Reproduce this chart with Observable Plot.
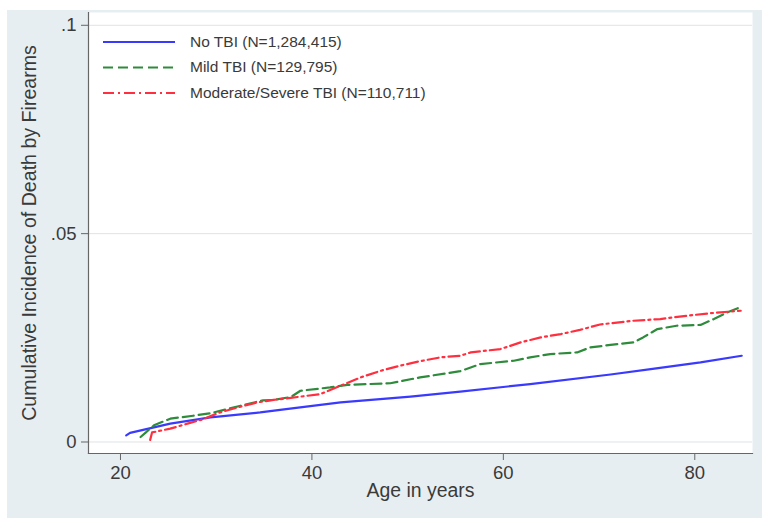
<!DOCTYPE html>
<html>
<head>
<meta charset="utf-8">
<script src="https://cdn.jsdelivr.net/npm/d3@7"></script>
<script src="https://cdn.jsdelivr.net/npm/@observablehq/plot@0.6"></script>
<style>
  html, body { margin: 0; padding: 0; background: #ffffff; }
  #wrap { position: relative; width: 762px; height: 520px; overflow: hidden; font-family: "Liberation Sans", Arial, sans-serif; }
  #bg { position: absolute; left: 7px; top: 10px; width: 755px; height: 508px; background: #e7eef2; }
  #chart { position: absolute; left: 0; top: 0; }
  #legend { position: absolute; left: 0; top: 0; width: 762px; height: 520px; pointer-events: none; }
  .lg-text { position: absolute; font-size: 15.5px; color: #3a3a3a; white-space: nowrap; line-height: 1; }
</style>
</head>
<body>
<div id="wrap">
  <div id="bg"></div>
  <div id="chart"></div>
  <div id="legend"></div>
</div>
<script>
// ---- Data ----
const seriesNames = ["No TBI (N=1,284,415)", "Mild TBI (N=129,795)", "Moderate/Severe TBI (N=110,711)"];
const seriesColors = ["#3a3aff", "#2e8b3c", "#ff2f3f"];
const seriesDash = [null, "11,5", "11,4,2,4"];

const ageNoTBI = [20.6, 21.0, 25.2, 29.4, 34.6, 37.3, 43.0, 50.3, 55.5, 62.8, 71.2, 75.4, 80.6, 84.9];
const cumNoTBI = [0.0016, 0.0022, 0.0044, 0.0059, 0.0071, 0.0079, 0.0095, 0.0109, 0.0121, 0.0139, 0.0162, 0.0175, 0.0191, 0.0207];

const ageMild = [22.1, 22.6, 23.5, 25.2, 27.6, 29.4, 32.9, 34.9, 36.0, 37.8, 38.8, 41.9, 43.7, 48.2, 51.3, 55.5, 57.6, 61.1, 62.8, 64.9, 67.7, 69.1, 71.2, 73.6, 74.6, 76.1, 78.1, 80.6, 82.0, 83.4, 84.8];
const cumMild = [0.0012, 0.0022, 0.0040, 0.0056, 0.0063, 0.0069, 0.0089, 0.0100, 0.0101, 0.0108, 0.0123, 0.0131, 0.0137, 0.0141, 0.0155, 0.0170, 0.0187, 0.0195, 0.0203, 0.0211, 0.0215, 0.0227, 0.0233, 0.0239, 0.0251, 0.0271, 0.0279, 0.0281, 0.0295, 0.0311, 0.0324];

const ageModSev = [23.1, 23.3, 25.2, 27.0, 28.4, 30.4, 32.9, 34.3, 36.0, 37.8, 40.9, 43.0, 45.1, 47.2, 49.2, 51.3, 53.4, 55.5, 56.6, 59.7, 61.8, 63.9, 66.0, 68.0, 70.1, 73.6, 76.4, 79.2, 81.6, 83.7, 84.8];
const cumModSev = [0.0005, 0.0023, 0.0032, 0.0044, 0.0053, 0.0071, 0.0087, 0.0095, 0.0101, 0.0106, 0.0115, 0.0135, 0.0155, 0.0171, 0.0183, 0.0194, 0.0203, 0.0207, 0.0215, 0.0223, 0.0239, 0.0251, 0.0259, 0.0269, 0.0282, 0.0291, 0.0295, 0.0303, 0.0309, 0.0313, 0.0315];

const xTicks = [20, 40, 60, 80];
const yTicks = [0, 0.05, 0.1];
const yTickLabels = ["0", ".05", ".1"];
const xTitle = "Age in years";
const yTitle = "Cumulative Incidence of Death by Firearms";

// ---- Build tables ----
const toRows = (ages, vals) => ages.map((a, i) => ({age: a, cum: vals[i]}));
const series = [
  toRows(ageNoTBI, cumNoTBI),
  toRows(ageMild, cumMild),
  toRows(ageModSev, cumModSev)
];

const font = '"Liberation Sans", Arial, sans-serif';

const chart = Plot.plot({
  width: 762,
  height: 520,
  marginLeft: 88,
  marginRight: 10,
  marginTop: 12,
  marginBottom: 67,
  style: {background: "transparent", fontFamily: font, fontSize: "18.5px", color: "#3a3a3a", overflow: "visible"},
  x: {domain: [16.66, 86.03]},
  y: {domain: [-0.00276, 0.10307]},
  marks: [
    Plot.frame({fill: "white", stroke: null}),
    Plot.gridY(yTicks, {stroke: "#dfe3e6", strokeOpacity: 1, strokeWidth: 1}),
    Plot.axisY(yTicks, {
      tickSize: 7, tickPadding: 5, stroke: "#666",
      tickFormat: d => yTickLabels[yTicks.indexOf(d)],
      label: null, fontSize: 18.5, fill: "#3a3a3a"
    }),
    Plot.axisY([], {
      tickSize: 0,
      label: yTitle, labelAnchor: "center", labelArrow: "none", labelOffset: 66,
      fontSize: 19.6, fill: "#3a3a3a"
    }),
    Plot.axisX(xTicks, {
      tickSize: 7, tickPadding: 5, stroke: "#666",
      tickFormat: d => String(d),
      label: null, fontSize: 18.5, fill: "#3a3a3a"
    }),
    Plot.axisX([], {
      tickSize: 0,
      label: xTitle, labelAnchor: "center", labelArrow: "none", labelOffset: 43,
      fontSize: 19.4, fill: "#3a3a3a"
    }),
    Plot.frame({anchor: "left", stroke: "#666", strokeWidth: 1.2}),
    Plot.frame({anchor: "bottom", stroke: "#666", strokeWidth: 1.2}),
    ...series.map((rows, i) => Plot.line(rows, {
      x: "age", y: "cum",
      stroke: seriesColors[i],
      strokeWidth: 2.2,
      strokeDasharray: seriesDash[i] || undefined,
      curve: "linear"
    }))
  ]
});
document.getElementById("chart").appendChild(chart);

// ---- Legend (inside plot area, top-left) ----
const legend = document.getElementById("legend");
const rowY = [42, 67.5, 93];
const ns = "http://www.w3.org/2000/svg";
const lsvg = document.createElementNS(ns, "svg");
lsvg.setAttribute("width", 762);
lsvg.setAttribute("height", 520);
lsvg.style.position = "absolute";
lsvg.style.left = "0px";
lsvg.style.top = "0px";
seriesNames.forEach((name, i) => {
  const ln = document.createElementNS(ns, "line");
  ln.setAttribute("x1", 103);
  ln.setAttribute("x2", 175);
  ln.setAttribute("y1", rowY[i]);
  ln.setAttribute("y2", rowY[i]);
  ln.setAttribute("stroke", seriesColors[i]);
  ln.setAttribute("stroke-width", 2.2);
  if (seriesDash[i]) ln.setAttribute("stroke-dasharray", i === 1 ? "10,5" : seriesDash[i]);
  lsvg.appendChild(ln);
  const t = document.createElement("div");
  t.className = "lg-text";
  t.textContent = name;
  t.style.left = "190px";
  t.style.top = (rowY[i] - 8.5) + "px";
  legend.appendChild(t);
});
legend.appendChild(lsvg);
</script>
</body>
</html>
